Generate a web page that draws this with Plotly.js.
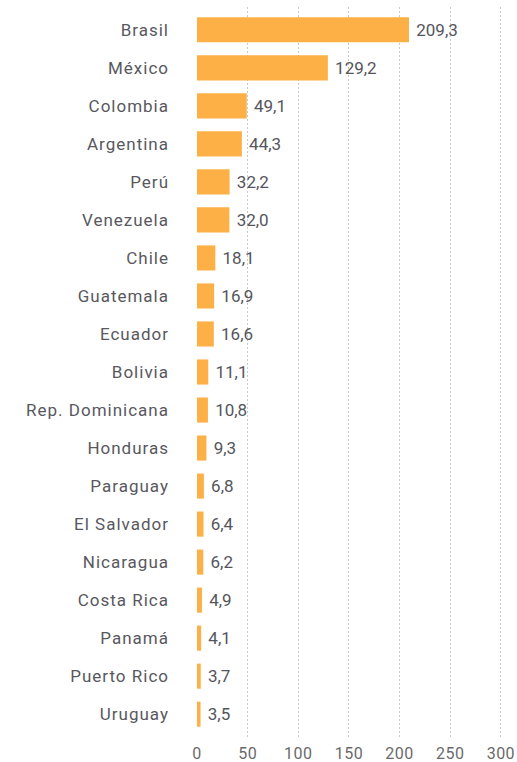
<!DOCTYPE html>
<html>
<head>
<meta charset="utf-8">
<script src="https://cdn.plot.ly/plotly-3.0.1.min.js"></script>
<style>
html,body{margin:0;padding:0;background:#fff;}
#chart{width:517px;height:762px;}
#chart .textpoint text{letter-spacing:1.2px;}
#chart .ytick text{letter-spacing:1px;}
#chart .xtick text{letter-spacing:0.5px;}
</style>
</head>
<body>
<div id="chart"></div>
<script>
const countries = ["Brasil","México","Colombia","Argentina","Perú","Venezuela","Chile","Guatemala","Ecuador","Bolivia","Rep. Dominicana","Honduras","Paraguay","El Salvador","Nicaragua","Costa Rica","Panamá","Puerto Rico","Uruguay"];
const population = [209.3,129.2,49.1,44.3,32.2,32.0,18.1,16.9,16.6,11.1,10.8,9.3,6.8,6.4,6.2,4.9,4.1,3.7,3.5];
const xTicks = [0,50,100,150,200,250,300];

const trace = {
  type: 'bar',
  orientation: 'h',
  y: countries,
  x: population,
  marker: {color: '#FCB045'},
  width: 0.66,
  texttemplate: ' %{x:.1f}',
  textposition: 'outside',
  cliponaxis: false,
  textfont: {family: 'Roboto, sans-serif', size: 17, color: '#55555c'},
  hoverinfo: 'skip'
};

const layout = {
  width: 517, height: 762,
  margin: {l: 197, r: 6, t: 7, b: 25},
  separators: ',.',
  paper_bgcolor: '#fff', plot_bgcolor: '#fff',
  showlegend: false,
  xaxis: {
    range: [0, 310],
    tickvals: xTicks,
    ticktext: xTicks.map(String),
    showgrid: true, gridcolor: '#c8c8c8', griddash: '2px,2px', gridwidth: 1,
    zeroline: false, showline: false, ticks: '',
    ticklabelstandoff: 5,
    tickfont: {family: 'Roboto, sans-serif', size: 16, color: '#6a6a6a'}
  },
  yaxis: {
    categoryorder: 'array', categoryarray: countries,
    range: [18.6, -0.6],
    showgrid: false, zeroline: false, showline: false, ticks: '',
    ticklabelstandoff: 27,
    tickfont: {family: 'Roboto, sans-serif', size: 17, color: '#58585e'}
  }
};

Plotly.newPlot('chart', [trace], layout, {displayModeBar: false, staticPlot: true});
</script>
</body>
</html>
